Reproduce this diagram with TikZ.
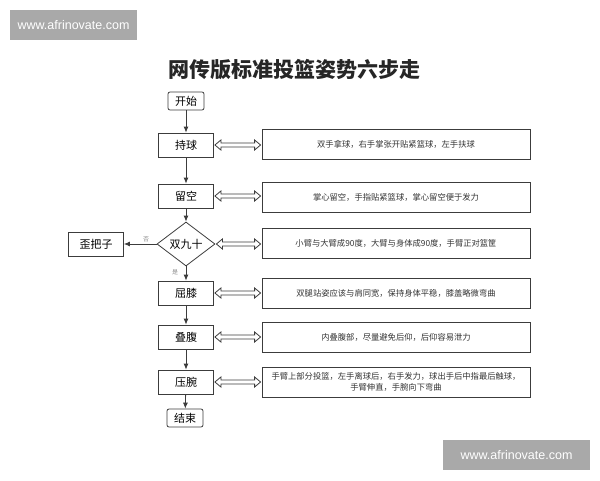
\documentclass[tikz,border=0pt]{standalone}
\usepackage{fontspec}
\setmainfont{Liberation Sans}
\newfontfamily\cjk{Noto Sans CJK SC}
\usetikzlibrary{shapes.geometric,arrows.meta,calc}

\definecolor{linegray}{HTML}{3C3C3C}
\definecolor{markgray}{HTML}{A9A9A9}

\tikzset{
    stepbox/.style={draw=linegray, thick, minimum width=55pt, minimum height=24pt, inner sep=0pt, font=\cjk\fontsize{11}{13}\selectfont},
    endbox/.style={stepbox, rounded corners=2pt, minimum width=36pt, minimum height=18pt},
    notebox/.style={draw=linegray, thick, minimum width=268pt, minimum height=30pt, inner sep=2pt, align=center, font=\cjk\fontsize{8.3}{11}\selectfont, text=black!80},
    flow/.style={draw=linegray, thick, -{Latex[length=6pt,width=5pt]}},
    link/.style={draw=linegray, line width=0.8pt, fill=white, line join=miter},
    wmark/.style={fill=markgray, draw=none, text=white, font=\fontsize{12.5}{14}\selectfont}
}

% Hollow two-way arrow between a step and its note.
\newcommand{\twoway}[2]{%
    \draw [link] let \p1=(#1.east), \p2=(#2.west) in
        (\x1+1pt,\y1) -- (\x1+7pt,\y1+5pt) -- (\x1+7pt,\y1+2pt) -- (\x2-7pt,\y1+2pt) -- (\x2-7pt,\y1+5pt)
        -- (\x2-1pt,\y1) -- (\x2-7pt,\y1-5pt) -- (\x2-7pt,\y1-2pt) -- (\x1+7pt,\y1-2pt) -- (\x1+7pt,\y1-5pt) -- cycle;}

\begin{document}
\begin{tikzpicture}[x=1pt, y=-1pt]
    \useasboundingbox (0,0) rectangle (600,480);

    % Watermarks.
    \node [wmark, minimum width=127pt, minimum height=30pt] (markA) at (73.5,25)  {www.afrinovate.com};
    \node [wmark, minimum width=147pt, minimum height=30pt] (markB) at (516.5,455) {www.afrinovate.com};

    % Title.
    \node [font=\cjk\bfseries\fontsize{21}{24}\selectfont, text=black!85] (title) at (294,70) {网传版标准投篮姿势六步走};

    % Steps.
    \node [endbox]  (start) at (186,101) {开始};
    \node [stepbox] (hold)  at (186,145) {持球};
    \node [stepbox] (palm)  at (186,196) {留空};
    \node [draw=linegray, thick, diamond, minimum width=58pt, minimum height=44pt, inner sep=0pt,
           font=\cjk\fontsize{11}{13}\selectfont] (nine) at (186,244) {双九十};
    \node [stepbox] (crook) at (96,244)  {歪把子};
    \node [stepbox] (knee)  at (186,293) {屈膝};
    \node [stepbox] (belly) at (186,337) {叠腹};
    \node [stepbox] (wrist) at (186,382) {压腕};
    \node [endbox]  (stop)  at (185,418) {结束};

    % Notes.
    \node [notebox] (holdN)  at (396,144.5) {双手拿球，右手掌张开贴紧篮球，左手扶球};
    \node [notebox] (palmN)  at (396,197)   {掌心留空，手指贴紧篮球，掌心留空便于发力};
    \node [notebox] (nineN)  at (396,243.5) {小臂与大臂成90度，大臂与身体成90度，手臂正对篮筐};
    \node [notebox] (kneeN)  at (396,293.5) {双腿站姿应该与肩同宽，保持身体平稳，膝盖略微弯曲};
    \node [notebox] (bellyN) at (396,337.5) {内叠腹部，尽量避免后仰，后仰容易泄力};
    \node [notebox] (wristN) at (396,382)   {手臂上部分投篮，左手离球后，右手发力，球出手后中指最后触球，\\手臂伸直，手腕向下弯曲};

    % Flow.
    \draw [flow] (start) -- (hold);
    \draw [flow] (hold)  -- (palm);
    \draw [flow] (palm)  -- (nine);
    \draw [flow] (nine)  -- (knee);
    \draw [flow] (nine)  -- (crook);
    \draw [flow] (knee)  -- (belly);
    \draw [flow] (belly) -- (wrist);
    \draw [flow] (wrist) -- (stop);

    % Branch labels.
    \node [font=\cjk\fontsize{6}{7}\selectfont, text=black!45] (no)  at (146,239) {否};
    \node [font=\cjk\fontsize{6}{7}\selectfont, text=black!45] (yes) at (175,272) {是};

    % Links between steps and notes.
    \twoway{hold}{holdN}
    \twoway{palm}{palmN}
    \twoway{nine}{nineN}
    \twoway{knee}{kneeN}
    \twoway{belly}{bellyN}
    \twoway{wrist}{wristN}

\end{tikzpicture}
\end{document}
